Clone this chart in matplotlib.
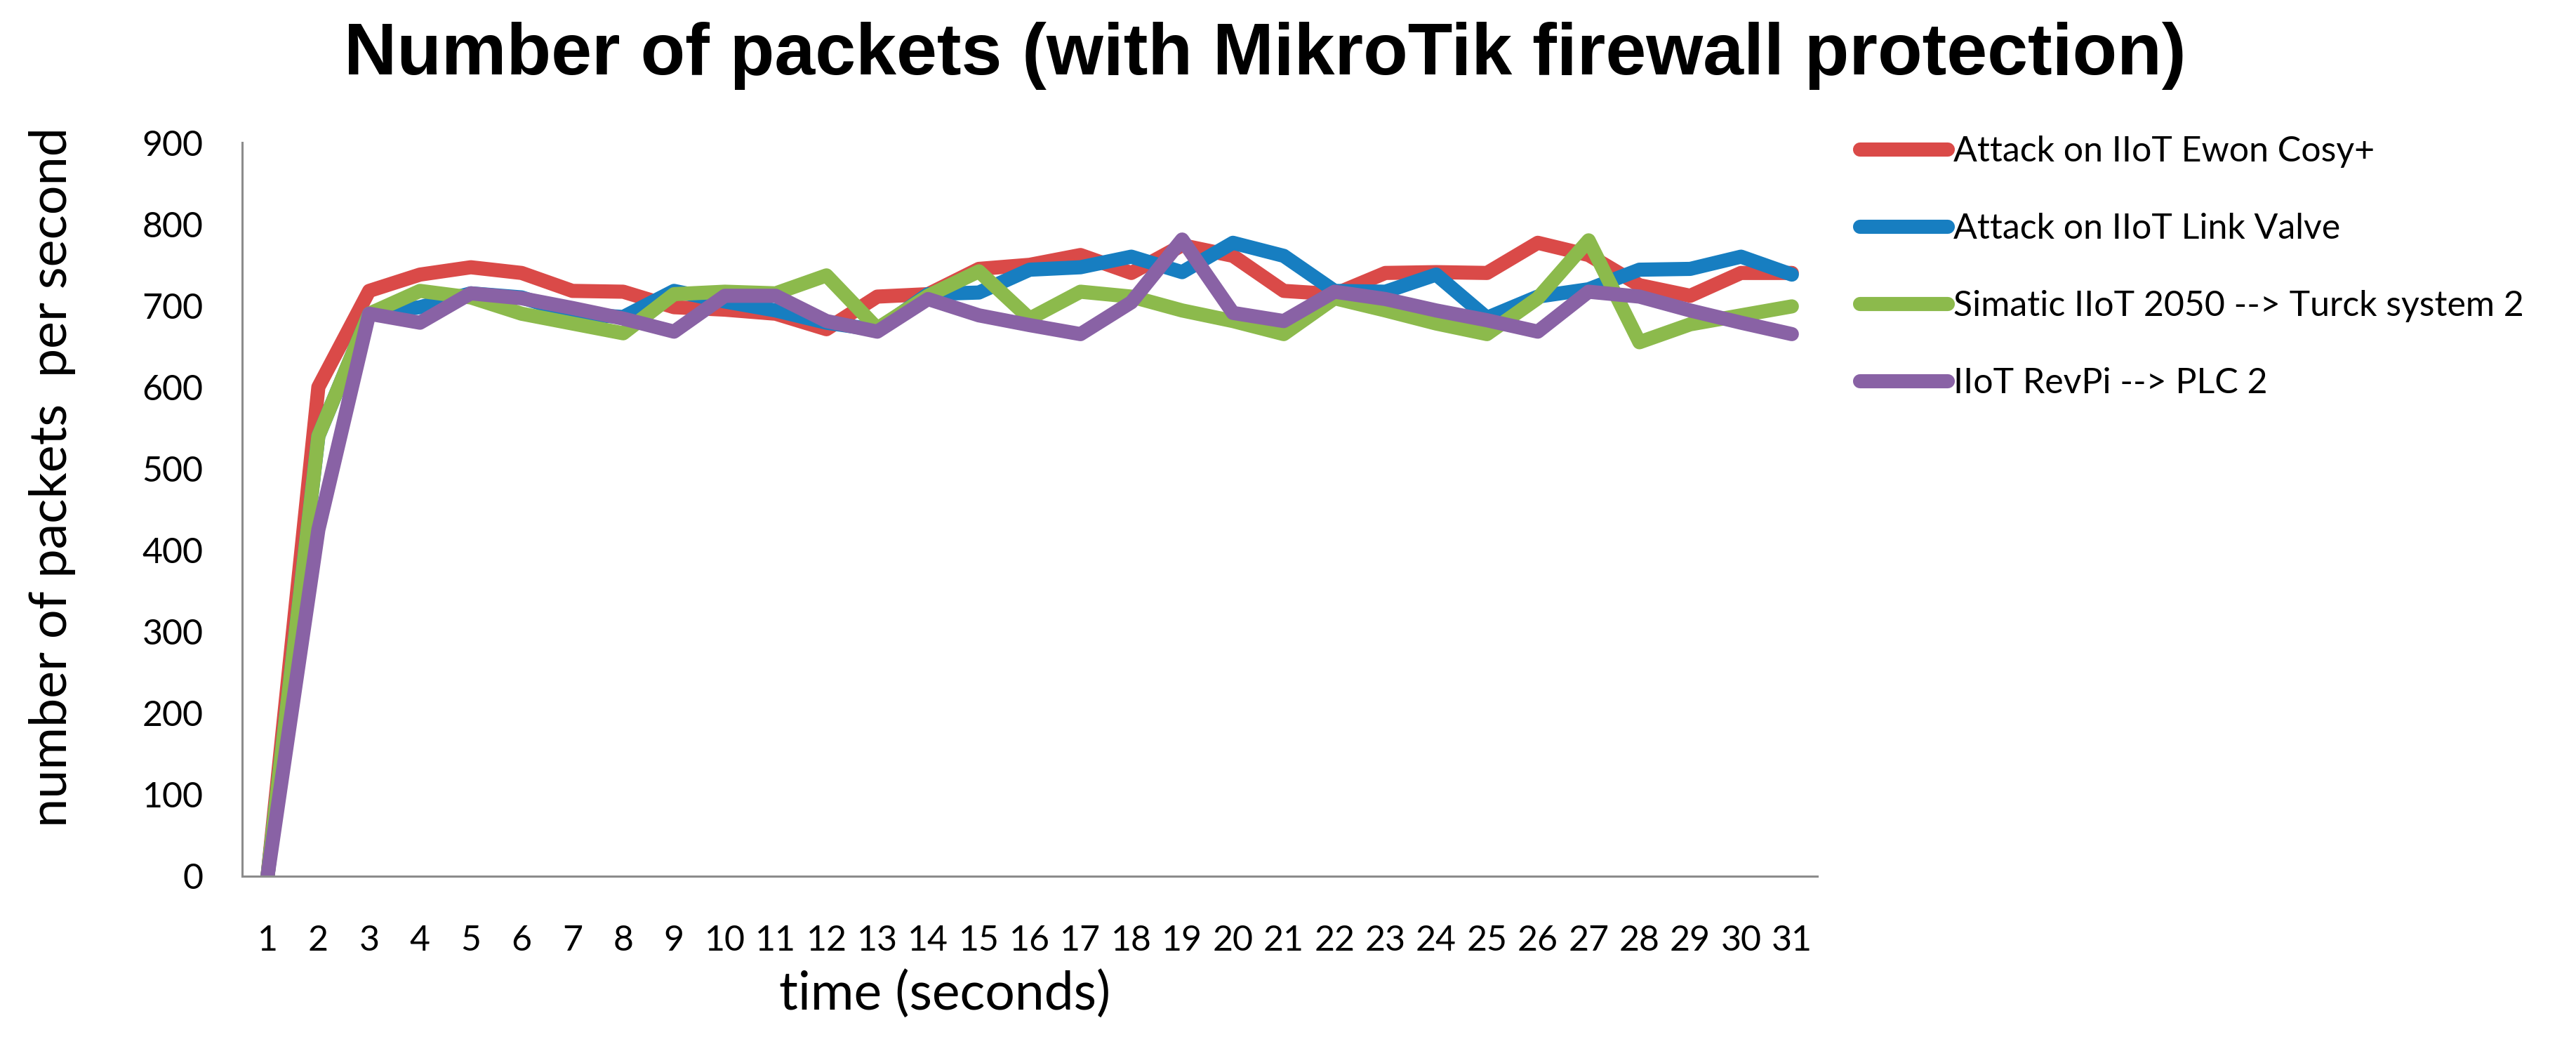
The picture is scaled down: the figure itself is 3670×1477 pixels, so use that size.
import matplotlib
matplotlib.use("Agg")
import matplotlib.pyplot as plt
from matplotlib.lines import Line2D

# ---- data ----
time_s = list(range(1, 32))
ewon_cosy = [0, 600, 718, 738, 747, 740, 718, 717, 698, 695, 690, 671, 711, 714, 745, 750, 762,
             740, 774, 761, 718, 714, 740, 741, 740, 777, 762, 725, 712, 740, 740]
link_valve = [0, 540, 690, 698, 715, 710, 690, 686, 718, 705, 694, 679, 670, 714, 716, 744, 747,
              760, 741, 777, 761, 718, 717, 738, 685, 711, 720, 744, 745, 760, 738]
simatic_turck = [0, 540, 690, 718, 710, 690, 678, 666, 714, 717, 715, 737, 672, 712, 742, 684, 717,
                 711, 694, 681, 665, 709, 694, 678, 665, 709, 780, 655, 677, 688, 699]
revpi_plc = [0, 425, 690, 679, 715, 709, 697, 684, 668, 712, 712, 681, 668, 708, 688, 676, 665,
             704, 781, 691, 681, 717, 708, 694, 682, 668, 717, 711, 694, 679, 665]
series_labels = ["Attack on IIoT Ewon Cosy+", "Attack on IIoT Link Valve",
                 "Simatic IIoT 2050 --> Turck system 2", "IIoT RevPi --> PLC 2"]
y_ticks = [0, 100, 200, 300, 400, 500, 600, 700, 800, 900]

colors = ["#DA4A48", "#177EC1", "#8CBA4C", "#8962A5"]
series = [ewon_cosy, link_valve, simatic_turck, revpi_plc]

W, H = 3670, 1477
fig = plt.figure(figsize=(W / 100, H / 100), dpi=100)
ax = fig.add_axes([345 / W, 1 - 1248 / H, (2589 - 345) / W, (1248 - 203) / H])

lw = 14.5
for vals, c, lab in zip(series, colors, series_labels):
    ax.plot(time_s, vals, color=c, lw=lw, solid_capstyle="round",
            solid_joinstyle="round", label=lab)

ax.set_xlim(0.5, 31.5)
ax.set_ylim(0, 900)
ax.set_yticks(y_ticks)
ax.set_xticks(time_s)

tick_font = "Lato"
ax.tick_params(axis="both", length=0, labelsize=36)
ax.tick_params(axis="y", pad=40)
ax.tick_params(axis="x", pad=50)
for lab in ax.get_xticklabels() + ax.get_yticklabels():
    lab.set_fontfamily(tick_font)

for s in ["top", "right"]:
    ax.spines[s].set_visible(False)
for s in ["left", "bottom"]:
    ax.spines[s].set_color("#8c8c8c")
    ax.spines[s].set_linewidth(2.2)

fig.text(1802 / W, 1 - 80 / H, "Number of packets (with MikroTik firewall protection)",
         ha="center", va="center", fontsize=75, fontweight="bold", family="Liberation Sans")
fig.text(75 / W, 1 - 679 / H, "number of packets  per second", rotation=90,
         ha="center", va="center", fontsize=53, family=tick_font)
fig.text(1346 / W, 1 - 1416 / H, "time (seconds)", ha="center", va="center",
         fontsize=54, family=tick_font)

handles = [Line2D([0], [0], color=c, lw=lw, solid_capstyle="round") for c in colors]
leg = fig.legend(handles, series_labels, loc="upper left",
                 bbox_to_anchor=(2630 / W, 1 - 173 / H), frameon=False,
                 prop={"family": tick_font, "size": 36}, handlelength=2.5,
                 handletextpad=0.15, labelspacing=1.28, borderaxespad=0)

fig.savefig("out.png", dpi=100, facecolor="white")
